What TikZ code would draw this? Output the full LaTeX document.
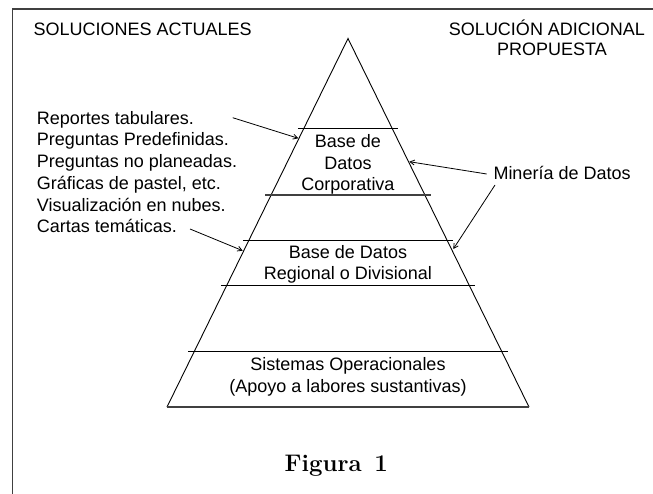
\documentclass[tikz,border=0pt]{standalone}
\usepackage{fontspec}
\setsansfont{Liberation Sans}
\usetikzlibrary{calc,arrows.meta}
\begin{document}
\begin{tikzpicture}[x=1pt,y=-1pt,
  txt/.style={font=\sffamily\fontsize{18}{21.7}\selectfont, inner sep=0pt, text=black},
  lvl/.style={line width=0.9pt},
  thicklvl/.style={line width=1.4pt, black!75},
  side/.style={line width=0.9pt, line join=miter},
  arr/.style={line width=0.8pt, -{Straight Barb[length=4.5pt,width=5pt]}},
  figlbl/.style={font=\fontsize{24}{28}\selectfont\bfseries, inner sep=0pt},
]
\useasboundingbox (0,0) rectangle (653,494);
\fill[white] (0,0) rectangle (653,494);
\draw[line width=1.2pt, black!75] (12.5,494) -- (12.5,9) -- (653,9);

% pyramid
\coordinate (apex) at (348,38.5);
\coordinate (bl) at (167,407);
\coordinate (br) at (529,407);
\draw[side] (bl) -- (apex) -- (br);
\draw[thicklvl] (bl) -- (br);
\foreach \t/\n/\s in {0.2437/1/lvl,0.4247/2/thicklvl,0.5468/3/lvl,0.6689/4/lvl,0.8499/5/lvl}{
  \draw[\s] ($(apex)!\t!(bl)+(-6,0)$) coordinate (l\n) -- ($(apex)!\t!(br)+(6,0)$) coordinate (r\n);
}

% headers
\node[txt, anchor=base west] (h1) at (33.3,35.3) {SOLUCIONES ACTUALES};
\node[txt, anchor=base] (h2) at (547,35.8) {SOLUCIÓN ADICIONAL};
\node[txt, anchor=base] (h3) at (552,55.7) {PROPUESTA};

% left list
\node[txt, anchor=base west] (s1) at (36.7,124.3) {Reportes tabulares.};
\node[txt, anchor=base west] (s2) at (36.7,146.0) {Preguntas Predefinidas.};
\node[txt, anchor=base west] (s3) at (36.7,167.7) {Preguntas no planeadas.};
\node[txt, anchor=base west] (s4) at (36.7,189.4) {Gráficas de pastel, etc.};
\node[txt, anchor=base west] (s5) at (36.7,211.1) {Visualización en nubes.};
\node[txt, anchor=base west] (s6) at (36.7,232.8) {Cartas temáticas.};

% pyramid labels
\node[txt, anchor=base] (p1a) at (348,147.4) {Base de};
\node[txt, anchor=base] (p1b) at (348,169.1) {Datos};
\node[txt, anchor=base] (p1c) at (348,190.8) {Corporativa};
\node[txt, anchor=base] (p2a) at (348,258.1) {Base de Datos};
\node[txt, anchor=base] (p2b) at (348,279.7) {Regional o Divisional};
\node[txt, anchor=base] (p3a) at (348,370.7) {Sistemas Operacionales};
\node[txt, anchor=base] (p3b) at (348,392.4) {(Apoyo a labores sustantivas)};

% right label
\node[txt, anchor=base west] (m) at (493.3,180) {Minería de Datos};

% caption
\node[figlbl, anchor=base] (fig) at (336.2,471.7) {Figura\hspace{0.15em} 1};

% arrows
\coordinate (a1t) at (232.7,117.7); \coordinate (a1h) at (298.3,138.3);
\coordinate (a2t) at (190,229);     \coordinate (a2h) at (242.7,250.7);
\coordinate (a3t) at (486.7,174);   \coordinate (a3h) at (409.3,161.7);
\coordinate (a4t) at (495,185);     \coordinate (a4h) at (453.3,249);
\draw[arr] (a1t) -- (a1h);
\draw[arr] (a2t) -- (a2h);
\draw[arr] (a3t) -- (a3h);
\draw[arr] (a4t) -- (a4h);
\end{tikzpicture}
\end{document}
